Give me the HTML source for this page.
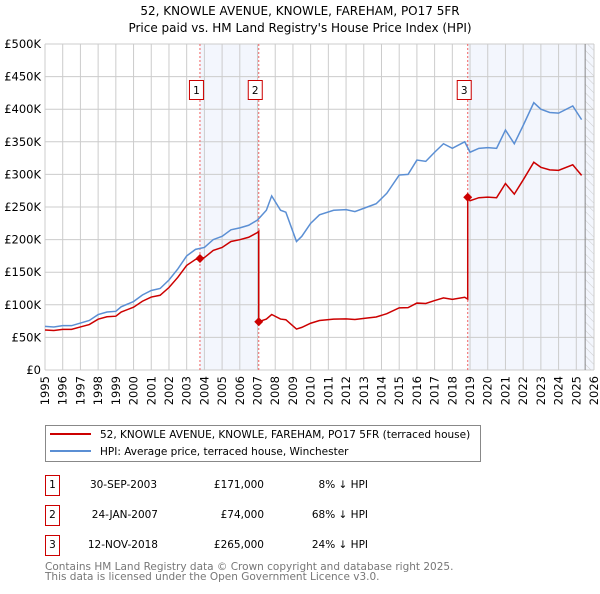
<!DOCTYPE html>
<html><head><meta charset="utf-8"><style>
body{margin:0;background:#fff;font-family:"DejaVu Sans","Liberation Sans",sans-serif;}
</style></head><body>
<svg id="c" width="600" height="590" xmlns="http://www.w3.org/2000/svg" font-family="DejaVu Sans, Liberation Sans, sans-serif">
<defs><pattern id="hatch" width="6" height="6" patternUnits="userSpaceOnUse" patternTransform="rotate(-45)"><line x1="0" y1="0" x2="0" y2="6" stroke="#ccc" stroke-width="1"/></pattern></defs>
<text x="300" y="15" text-anchor="middle" font-size="12">52, KNOWLE AVENUE, KNOWLE, FAREHAM, PO17 5FR</text>
<text x="300" y="32" text-anchor="middle" font-size="12">Price paid vs. HM Land Registry's House Price Index (HPI)</text>
<g id="plot"></g>
<g>
<rect x="45.5" y="425.5" width="435" height="36" fill="#fff" stroke="#888"/>
<line x1="50" y1="434" x2="91" y2="434" stroke="#cc0000" stroke-width="2"/>
<text x="100" y="438" font-size="10.5">52, KNOWLE AVENUE, KNOWLE, FAREHAM, PO17 5FR (terraced house)</text>
<line x1="50" y1="451" x2="91" y2="451" stroke="#5b8fd4" stroke-width="2"/>
<text x="100" y="455" font-size="10.5">HPI: Average price, terraced house, Winchester</text>
</g>
<g font-size="10.5">
<rect x="45.5" y="475.5" width="14" height="20" fill="#fff" stroke="#cc0000"/><text x="52.5" y="488" text-anchor="middle">1</text>
<text x="157" y="488" text-anchor="end">30-SEP-2003</text><text x="264" y="488" text-anchor="end">£171,000</text><text x="368" y="488" text-anchor="end">8% ↓ HPI</text>
<rect x="45.5" y="505.5" width="14" height="20" fill="#fff" stroke="#cc0000"/><text x="52.5" y="518" text-anchor="middle">2</text>
<text x="158" y="518" text-anchor="end">24-JAN-2007</text><text x="264" y="518" text-anchor="end">£74,000</text><text x="368" y="518" text-anchor="end">68% ↓ HPI</text>
<rect x="45.5" y="535.5" width="14" height="20" fill="#fff" stroke="#cc0000"/><text x="52.5" y="548" text-anchor="middle">3</text>
<text x="158" y="548" text-anchor="end">12-NOV-2018</text><text x="264" y="548" text-anchor="end">£265,000</text><text x="368" y="548" text-anchor="end">24% ↓ HPI</text>
</g>
<text x="45" y="570" font-size="10.5" fill="#777">Contains HM Land Registry data © Crown copyright and database right 2025.</text>
<text x="45" y="580" font-size="10.5" fill="#777">This data is licensed under the Open Government Licence v3.0.</text>
</svg>
<script>
const hpiYears=[1995,1995.5,1996,1996.5,1997,1997.5,1998,1998.5,1999,1999.3,2000,2000.5,2001,2001.5,2002,2002.5,2003,2003.5,2004,2004.5,2005,2005.5,2006,2006.5,2007,2007.5,2007.8,2008.3,2008.6,2009.2,2009.5,2010,2010.5,2011.3,2012,2012.5,2013.2,2013.7,2014.3,2015,2015.5,2016,2016.5,2017,2017.5,2018,2018.7,2019,2019.5,2020,2020.5,2021,2021.5,2022,2022.6,2023,2023.5,2024,2024.8,2025.3];
const hpiValues=[67000,66000,68000,68000,72000,76000,85000,89000,90000,97000,105000,115000,122000,125000,138000,155000,175000,185000,188000,200000,205000,215000,218000,222000,230000,245000,267000,245000,242000,197000,205000,225000,238000,245000,246000,243000,250000,255000,271000,299000,300000,322000,320000,334000,347000,340000,350000,334000,340000,341000,340000,368000,347000,375000,410000,400000,395000,394000,405000,384000];
const saleYears=[2003.75,2007.07,2018.87];
const salePrices=[171000,74000,265000];
const yTicks=[0,50000,100000,150000,200000,250000,300000,350000,400000,450000,500000];
const yTickLabels=["£0","£50K","£100K","£150K","£200K","£250K","£300K","£350K","£400K","£450K","£500K"];
const xTicks=[1995,1996,1997,1998,1999,2000,2001,2002,2003,2004,2005,2006,2007,2008,2009,2010,2011,2012,2013,2014,2015,2016,2017,2018,2019,2020,2021,2022,2023,2024,2025,2026];
const NS="http://www.w3.org/2000/svg";
const X0=45,X1=594,Y0=370,Y1=44;
const sx=y=>X0+(y-1995)/(2026-1995)*(X1-X0);
const sy=v=>Y0-v/500000*(Y0-Y1);
const g=document.getElementById('plot');
function mk(t,a){const e=document.createElementNS(NS,t);for(const k in a)e.setAttribute(k,a[k]);g.appendChild(e);return e;}
function hpiAt(y){for(let i=1;i<hpiYears.length;i++){if(y<=hpiYears[i]){const t=(y-hpiYears[i-1])/(hpiYears[i]-hpiYears[i-1]);return hpiValues[i-1]+t*(hpiValues[i]-hpiValues[i-1]);}}return hpiValues[hpiValues.length-1];}
let e=mk('rect',{x:sx(saleYears[0]),y:Y1,width:sx(saleYears[1])-sx(saleYears[0]),height:Y0-Y1,fill:'#f3f6fd'});


e=mk('rect',{x:sx(saleYears[2]),y:Y1,width:X1-sx(saleYears[2]),height:Y0-Y1,fill:'#f3f6fd'});


e=mk('rect',{x:sx(2025.5),y:Y1,width:X1-sx(2025.5),height:Y0-Y1,fill:'url(#hatch)'});


yTicks.forEach((v,i)=>{
 let l=mk('line',{x1:X0,x2:X1,y1:sy(v),y2:sy(v),stroke:'#ccc'});
 
 
 let t=mk('text',{x:X0-4,y:sy(v)+4,'text-anchor':'end','font-size':'11.5'});t.textContent=yTickLabels[i];
 
 
});
xTicks.forEach(y=>{
 let l=mk('line',{x1:sx(y),x2:sx(y),y1:Y1,y2:Y0,stroke:'#ccc'});
 
 
 let t=mk('text',{x:0,y:0,'text-anchor':'end','font-size':'11.5',transform:`translate(${sx(y)+4},${Y0+6}) rotate(-90)`});t.textContent=y;
 
 
});
e=mk('line',{x1:sx(2025.5),x2:sx(2025.5),y1:Y1,y2:Y0,stroke:'#888'});


saleYears.forEach((y,i)=>{
 let l=mk('line',{x1:sx(y),x2:sx(y),y1:Y1,y2:Y0,stroke:'#f06060','stroke-dasharray':'2,2'});
 
 
 let r=mk('rect',{x:sx(y)-10.5,y:80.5,width:14,height:19,fill:'#fff',stroke:'#cc0000'});
 
 
 let t=mk('text',{x:sx(y)-3.5,y:94,'text-anchor':'middle','font-size':'10.5'});t.textContent=i+1;
 
 
});
e=mk('polyline',{points:hpiYears.map((y,i)=>sx(y)+','+sy(hpiValues[i])).join(' '),fill:'none',stroke:'#5b8fd4','stroke-width':1.5});


const pts=[];
function ratioAt(y){let k=0;for(let i=0;i<saleYears.length;i++)if(y>=saleYears[i])k=i;return salePrices[k]/hpiAt(saleYears[k]);}
const allY=hpiYears.concat(saleYears).sort((a,b)=>a-b);
allY.forEach(y=>{
 const idx=saleYears.indexOf(y);
 if(idx>0){const prev=salePrices[idx-1]/hpiAt(saleYears[idx-1]);pts.push([y,hpiAt(y)*prev]);}
 pts.push([y,hpiAt(y)*ratioAt(y)]);
});
e=mk('polyline',{points:pts.map(p=>sx(p[0])+','+sy(p[1])).join(' '),fill:'none',stroke:'#cc0000','stroke-width':1.5});


saleYears.forEach((y,i)=>{
 const cx=sx(y),cy=sy(salePrices[i]);
 let d=mk('polygon',{points:`${cx},${cy-4.5} ${cx+4.5},${cy} ${cx},${cy+4.5} ${cx-4.5},${cy}`,fill:'#cc0000'});
 
 
});
</script>
</body></html>
